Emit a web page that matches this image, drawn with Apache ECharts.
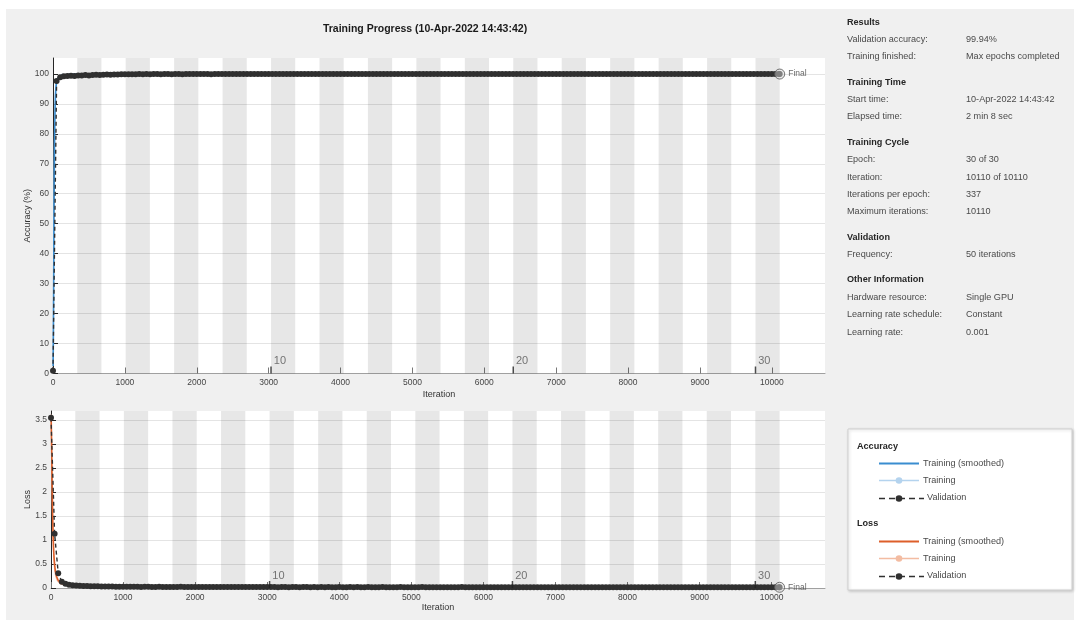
<!DOCTYPE html>
<html>
<head>
<meta charset="utf-8">
<title>Training Progress</title>
<script src="https://cdn.jsdelivr.net/npm/echarts@6.0.0/dist/echarts.min.js"></script>
<style>
  html, body { margin: 0; padding: 0; background: #ffffff; }
  #panel { position: absolute; left: 6px; top: 9px; width: 1068px; height: 611px; background: #f0f0f0; }
  #chart { position: absolute; left: 0; top: 0; width: 1076px; height: 623px; }
</style>
</head>
<body>
<div id="panel"></div>
<div id="chart"></div>
<script>
// ---- training run description ----
const maxIterations = 10110;
const itersPerEpoch = 337;
const numEpochs = 30;
const valFrequency = 50;
const xTickStep = 1000;
const xTickCount = 10;
const epochMarks = [10, 20, 30];

// training metrics, sampled at these iterations
const trainIters = [1, 3, 6, 9, 12, 15, 18, 21, 25, 30, 35, 40, 50, 60, 80, 100, 130, 170, 220, 300, 400, 550, 700, 900, 1200, 1600, 2000, 2500, 3000, 3500, 4000, 4500, 5000, 5500, 6000, 6500, 7000, 7500, 8000, 8500, 9000, 9500, 10000, 10110];
const trainAcc = [3.1, 9.4, 21.9, 37.5, 53.1, 65.6, 75, 82.8, 89.1, 93.8, 95.3, 96.9, 98.4, 98.4, 99.2, 99.2, 100, 99.2, 100, 100, 100, 99.2, 100, 100, 100, 100, 100, 100, 100, 100, 100, 100, 100, 100, 100, 100, 100, 100, 100, 100, 100, 100, 100, 100];
const trainAccSmooth = [2.5, 6.2, 15.1, 28.3, 42.6, 55.4, 66.1, 74.7, 82.6, 89.0, 92.6, 95.0, 97.4, 98.1, 98.9, 99.1, 99.6, 99.4, 99.8, 99.9, 99.9, 99.6, 99.9, 100, 100, 100, 100, 100, 100, 100, 100, 100, 100, 100, 100, 100, 100, 100, 100, 100, 100, 100, 100, 100];
const trainLoss = [3.62, 3.41, 3.08, 2.74, 2.39, 2.05, 1.74, 1.46, 1.16, 0.88, 0.69, 0.55, 0.38, 0.27, 0.17, 0.12, 0.08, 0.07, 0.05, 0.04, 0.03, 0.035, 0.025, 0.02, 0.018, 0.015, 0.012, 0.01, 0.01, 0.009, 0.008, 0.008, 0.007, 0.007, 0.006, 0.006, 0.006, 0.005, 0.005, 0.005, 0.005, 0.004, 0.004, 0.004];
const trainLossSmooth = [3.6, 3.5, 3.25, 2.95, 2.62, 2.29, 1.98, 1.69, 1.38, 1.08, 0.86, 0.69, 0.49, 0.36, 0.23, 0.16, 0.11, 0.085, 0.065, 0.05, 0.038, 0.036, 0.029, 0.023, 0.02, 0.017, 0.014, 0.012, 0.011, 0.01, 0.009, 0.009, 0.008, 0.008, 0.007, 0.007, 0.007, 0.006, 0.006, 0.006, 0.006, 0.005, 0.005, 0.005];

// validation metrics, one value every valFrequency iterations; the last one is the final check
const valAcc = [
  0.9, 97.6, 98.9, 99.2, 99.3, 99.4, 99.3, 99.5, 99.5, 99.6,
  99.5, 99.6, 99.7, 99.6, 99.7, 99.8, 99.7, 99.8, 99.8, 99.9,
  99.88, 99.9, 99.91, 99.89, 99.92, 99.9, 99.93, 99.91, 99.92, 99.94,
  99.91, 99.93, 99.92, 99.9, 99.94, 99.93, 99.91, 99.95, 99.92, 99.93,
  99.94, 99.92, 99.93, 99.95, 99.91, 99.94, 99.93, 99.92, 99.95, 99.94,
  99.93, 99.95, 99.92, 99.94, 99.96, 99.93, 99.94, 99.92, 99.95, 99.93,
  99.94, 99.96, 99.93, 99.95, 99.94, 99.92, 99.95, 99.94, 99.96, 99.93,
  99.95, 99.94, 99.93, 99.96, 99.94, 99.95, 99.93, 99.94, 99.96, 99.95,
  99.93, 99.94, 99.95, 99.96, 99.94, 99.93, 99.95, 99.94, 99.96, 99.95,
  99.94, 99.93, 99.95, 99.94, 99.96, 99.95, 99.93, 99.94, 99.95, 99.96,
  99.94, 99.95, 99.93, 99.96, 99.94, 99.95, 99.94, 99.93, 99.95, 99.96,
  99.95, 99.94, 99.96, 99.93, 99.95, 99.94, 99.96, 99.95, 99.94, 99.93,
  99.95, 99.96, 99.94, 99.95, 99.93, 99.94, 99.96, 99.95, 99.94, 99.95,
  99.93, 99.95, 99.94, 99.96, 99.95, 99.94, 99.93, 99.95, 99.96, 99.94,
  99.95, 99.94, 99.96, 99.95, 99.93, 99.94, 99.95, 99.96, 99.94, 99.95,
  99.94, 99.93, 99.95, 99.96, 99.94, 99.95, 99.94, 99.96, 99.93, 99.95,
  99.96, 99.94, 99.95, 99.93, 99.94, 99.96, 99.95, 99.94, 99.95, 99.93,
  99.94, 99.95, 99.96, 99.94, 99.93, 99.95, 99.94, 99.96, 99.95, 99.94,
  99.95, 99.93, 99.94, 99.96, 99.95, 99.94, 99.93, 99.95, 99.96, 99.94,
  99.95, 99.94, 99.96, 99.95, 99.93, 99.94, 99.95, 99.94, 99.96, 99.95,
  99.94, 99.95, 99.93,
  99.94
];
const valLoss = [
  3.55, 1.13, 0.31, 0.13, 0.09, 0.07, 0.058, 0.05, 0.046, 0.042,
  0.04, 0.037, 0.035, 0.034, 0.032, 0.031, 0.03, 0.029, 0.028, 0.027,
  0.026, 0.025, 0.026, 0.024, 0.025, 0.023, 0.024, 0.025, 0.023, 0.022,
  0.024, 0.023, 0.022, 0.023, 0.021, 0.022, 0.024, 0.022, 0.021, 0.023,
  0.022, 0.021, 0.023, 0.02, 0.022, 0.021, 0.02, 0.022, 0.021, 0.02,
  0.021, 0.02, 0.022, 0.019, 0.021, 0.02, 0.019, 0.021, 0.02, 0.019,
  0.02, 0.019, 0.021, 0.018, 0.02, 0.019, 0.018, 0.02, 0.019, 0.018,
  0.019, 0.02, 0.018, 0.019, 0.017, 0.019, 0.018, 0.02, 0.018, 0.017,
  0.019, 0.018, 0.017, 0.019, 0.018, 0.02, 0.017, 0.018, 0.019, 0.017,
  0.018, 0.017, 0.019, 0.018, 0.016, 0.018, 0.017, 0.019, 0.018, 0.017,
  0.018, 0.016, 0.017, 0.019, 0.017, 0.018, 0.016, 0.018, 0.017, 0.016,
  0.017, 0.018, 0.016, 0.017, 0.019, 0.017, 0.016, 0.018, 0.017, 0.016,
  0.018, 0.017, 0.016, 0.018, 0.017, 0.015, 0.017, 0.018, 0.016, 0.017,
  0.016, 0.018, 0.017, 0.016, 0.017, 0.015, 0.018, 0.016, 0.017, 0.016,
  0.017, 0.016, 0.018, 0.015, 0.017, 0.016, 0.017, 0.015, 0.016, 0.018,
  0.016, 0.017, 0.015, 0.016, 0.018, 0.016, 0.015, 0.017, 0.016, 0.015,
  0.017, 0.016, 0.015, 0.017, 0.016, 0.018, 0.015, 0.016, 0.017, 0.015,
  0.016, 0.015, 0.017, 0.016, 0.014, 0.016, 0.017, 0.015, 0.016, 0.015,
  0.016, 0.017, 0.015, 0.016, 0.014, 0.015, 0.017, 0.016, 0.015, 0.016,
  0.015, 0.016, 0.014, 0.016, 0.015, 0.017, 0.015, 0.014, 0.016, 0.015,
  0.016, 0.015, 0.014,
  0.015
];

// side panel text
const infoSections = [
  { title: 'Results', rows: [['Validation accuracy:', '99.94%'], ['Training finished:', 'Max epochs completed']] },
  { title: 'Training Time', rows: [['Start time:', '10-Apr-2022 14:43:42'], ['Elapsed time:', '2 min 8 sec']] },
  { title: 'Training Cycle', rows: [['Epoch:', '30 of 30'], ['Iteration:', '10110 of 10110'], ['Iterations per epoch:', '337'], ['Maximum iterations:', '10110']] },
  { title: 'Validation', rows: [['Frequency:', '50 iterations']] },
  { title: 'Other Information', rows: [['Hardware resource:', 'Single GPU'], ['Learning rate schedule:', 'Constant'], ['Learning rate:', '0.001']] }
];
const legendGroups = [
  { title: 'Accuracy', items: ['Training (smoothed)', 'Training', 'Validation'] },
  { title: 'Loss', items: ['Training (smoothed)', 'Training', 'Validation'] }
];
const titleText = 'Training Progress (10-Apr-2022 14:43:42)';

// ---- styling ----
const FONT = '"Liberation Sans", Arial, sans-serif';
const TEXT_SIZE = 9.1;
const C = {
  accSmooth: '#3a8dd0', accRaw: '#b4d3ee',
  lossSmooth: '#dd5f2a', lossRaw: '#f3bca2',
  val: '#303030', band: 'rgba(0,0,0,0.095)', grid: '#e4e4e4'
};
const xMax = 10740;

const zip = (xs, ys) => ys.map((v, i) => [xs[i], v]).filter(p => p[0] !== undefined);
const valPoints = vals => vals.map((v, i) => [i === vals.length - 1 ? maxIterations : i * valFrequency, v]);
const stepValues = (step, count) => Array.from({ length: count + 1 }, (_, i) => +(i * step).toFixed(4));

// alternating shading for even-numbered epochs
const bandData = [];
for (let e = 2; e <= numEpochs; e += 2) {
  bandData.push([{ xAxis: (e - 1) * itersPerEpoch }, { xAxis: e * itersPerEpoch }]);
}
const epochMarkData = epochMarks.map(e => ({ value: [(e - 1) * itersPerEpoch, 0], name: String(e) }));

function xAxisCfg(gridIndex, nameGap) {
  const ticks = stepValues(xTickStep, xTickCount);
  return {
    type: 'value', gridIndex, min: 0, max: xMax, interval: xTickStep,
    name: 'Iteration', nameLocation: 'middle', nameGap, nameMoveOverlap: false,
    nameTextStyle: { fontSize: 9, color: '#333', fontFamily: FONT },
    axisLine: { show: true, onZero: false, lineStyle: { color: '#a0a0a0', width: 1 } },
    axisTick: { show: true, inside: true, length: 6, customValues: ticks, lineStyle: { color: '#777' } },
    axisLabel: { fontSize: 8.5, color: '#444', fontFamily: FONT, margin: 5, customValues: ticks,
      formatter: v => String(v) },
    splitLine: { show: false }
  };
}
function yAxisCfg(gridIndex, name, max, step, count, nameGap) {
  const ticks = stepValues(step, count);
  const cols = Array.from({ length: count + 2 }, (_, i) => (i === count + 1 ? 'rgba(0,0,0,0)' : C.grid));
  return {
    type: 'value', gridIndex, min: 0, max, interval: step,
    name, nameLocation: 'middle', nameGap, nameMoveOverlap: false,
    nameTextStyle: { fontSize: 9, color: '#333', fontFamily: FONT },
    axisLine: { show: true, lineStyle: { color: '#262626', width: 1 } },
    axisTick: { show: true, inside: true, length: 5, customValues: ticks, lineStyle: { color: '#262626' } },
    axisLabel: { fontSize: 8.5, color: '#444', fontFamily: FONT, margin: 4, customValues: ticks,
      formatter: v => String(v) },
    splitLine: { show: true, lineStyle: { color: cols, width: 1 } }
  };
}

function panelSeries(idx, raw, smooth, val, rawColor, smoothColor) {
  return [
    { type: 'line', xAxisIndex: idx, yAxisIndex: idx, data: [[0, 0]], symbol: 'none', silent: true,
      lineStyle: { opacity: 0 }, z: 1,
      markArea: { silent: true, itemStyle: { color: C.band }, data: bandData } },
    { type: 'line', xAxisIndex: idx, yAxisIndex: idx, data: raw, symbol: 'none', z: 3,
      lineStyle: { color: rawColor, width: 1 } },
    { type: 'line', xAxisIndex: idx, yAxisIndex: idx, data: smooth, symbol: 'none', z: 4,
      lineStyle: { color: smoothColor, width: 1.6 } },
    { type: 'line', xAxisIndex: idx, yAxisIndex: idx, data: val, symbol: 'circle', symbolSize: 6, z: 5,
      itemStyle: { color: C.val }, lineStyle: { color: C.val, width: 1.4, type: [4, 3] } },
    { type: 'scatter', xAxisIndex: idx, yAxisIndex: idx, data: [val[val.length - 1]], z: 6,
      symbol: 'circle', symbolSize: 10,
      itemStyle: { color: 'rgba(215,215,215,0.6)', borderColor: '#555', borderWidth: 1 },
      label: { show: true, position: 'right', distance: 3, formatter: 'Final',
        fontSize: 8.5, color: '#444', fontFamily: FONT } },
    { type: 'scatter', xAxisIndex: idx, yAxisIndex: idx, data: epochMarkData, z: 6,
      symbol: 'rect', symbolSize: [1.5, 7], symbolOffset: [0, -3.5], silent: true,
      itemStyle: { color: '#222' },
      label: { show: true, position: 'right', distance: 2, offset: [0, -9],
        formatter: p => p.name, fontSize: 11, color: '#555', fontFamily: FONT } }
  ];
}

// ---- side panel and legend drawn as graphic text ----
const graphics = [];
const txt = (x, y, text, opts = {}) => graphics.push({
  type: 'text', x, y, silent: true,
  style: { text, font: (opts.bold ? 'bold ' : '') + (opts.size || TEXT_SIZE) + 'px ' + FONT,
    fill: opts.color || '#444', textAlign: opts.align || 'left', align: opts.align || 'left',
    textVerticalAlign: 'middle', verticalAlign: 'middle' }
});
txt(425, 29, titleText, { bold: true, size: 10.5, color: '#1a1a1a', align: 'center' });

let y = 22;
infoSections.forEach((s, si) => {
  if (si > 0) y += 25.3;
  txt(847, y, s.title, { bold: true, color: '#262626' });
  s.rows.forEach(r => {
    y += 17.4;
    txt(847, y, r[0], { color: '#4a4a4a' });
    txt(966, y, r[1], { color: '#4a4a4a' });
  });
});

graphics.push({ type: 'rect', shape: { x: 848, y: 429, width: 224, height: 161 }, silent: true,
  style: { fill: '#ffffff', stroke: '#cfcfcf', lineWidth: 1,
    shadowBlur: 3, shadowColor: 'rgba(0,0,0,0.18)', shadowOffsetX: 1, shadowOffsetY: 1 } });
const legendColors = [[C.accSmooth, C.accRaw], [C.lossSmooth, C.lossRaw]];
let ly = 446;
legendGroups.forEach((g, gi) => {
  if (gi > 0) ly += 26.3;
  txt(857, ly, g.title, { bold: true, color: '#262626' });
  g.items.forEach((item, ii) => {
    ly += 17.2;
    const lineY = Math.round(ly) + 0.5;
    if (ii === 0) {
      graphics.push({ type: 'line', silent: true, shape: { x1: 879, y1: lineY, x2: 919, y2: lineY },
        style: { stroke: legendColors[gi][0], lineWidth: 1.8 } });
    } else if (ii === 1) {
      graphics.push({ type: 'line', silent: true, shape: { x1: 879, y1: lineY, x2: 919, y2: lineY },
        style: { stroke: legendColors[gi][1], lineWidth: 1.5 } });
      graphics.push({ type: 'circle', silent: true, shape: { cx: 899, cy: lineY, r: 3.3 },
        style: { fill: legendColors[gi][1] } });
    } else {
      graphics.push({ type: 'line', silent: true, shape: { x1: 879, y1: lineY, x2: 924, y2: lineY },
        style: { stroke: C.val, lineWidth: 1.3, lineDash: [6, 4] } });
      graphics.push({ type: 'circle', silent: true, shape: { cx: 899, cy: lineY, r: 3.3 },
        style: { fill: C.val } });
    }
    txt(ii === 2 ? 927 : 923, ly, item, { color: '#4a4a4a' });
  });
});

const chart = echarts.init(document.getElementById('chart'), null, { renderer: 'canvas' });
chart.setOption({
  animation: false,
  backgroundColor: 'transparent',
  grid: [
    { left: 53, top: 58, width: 772, height: 315.5, show: true, backgroundColor: '#ffffff', borderWidth: 0 },
    { left: 51, top: 411, width: 774, height: 177, show: true, backgroundColor: '#ffffff', borderWidth: 0 }
  ],
  xAxis: [xAxisCfg(0, 16.5), xAxisCfg(1, 15.5)],
  yAxis: [yAxisCfg(0, 'Accuracy (%)', 105.3, 10, 10, 21), yAxisCfg(1, 'Loss', 3.69, 0.5, 7, 19)],
  series: [
    ...panelSeries(0, zip(trainIters, trainAcc), zip(trainIters, trainAccSmooth), valPoints(valAcc), C.accRaw, C.accSmooth),
    ...panelSeries(1, zip(trainIters, trainLoss), zip(trainIters, trainLossSmooth), valPoints(valLoss), C.lossRaw, C.lossSmooth)
  ],
  graphic: { elements: graphics }
});
</script>
</body>
</html>
